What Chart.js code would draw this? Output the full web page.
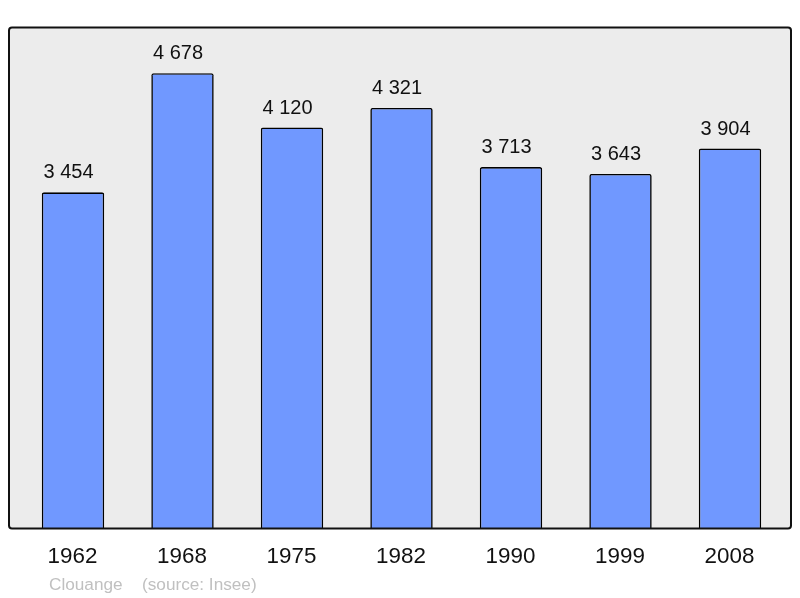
<!DOCTYPE html>
<html>
<head>
<meta charset="utf-8">
<script src="https://cdn.jsdelivr.net/npm/chart.js@4/dist/chart.umd.min.js"></script>
<style>
html,body{margin:0;padding:0;background:#fff;}
#wrap{width:800px;height:598px;position:relative;}
</style>
</head>
<body>
<div id="wrap"><canvas id="c" width="800" height="598"></canvas></div>
<script>
const years = ['1962','1968','1975','1982','1990','1999','2008'];
const population = [3454, 4678, 4120, 4321, 3713, 3643, 3904];
const valueLabels = ['3 454','4 678','4 120','4 321','3 713','3 643','3 904'];
const footerName = 'Clouange';
const footerSource = '(source: Insee)';

const FONT = '"Liberation Sans", Arial, sans-serif';

const framePlugin = {
  id: 'frame',
  beforeDatasetsDraw(chart) {
    const ctx = chart.ctx;
    ctx.save();
    ctx.beginPath();
    ctx.roundRect(9, 27.5, 782, 501, 3);
    ctx.fillStyle = '#ececec';
    ctx.fill();
    ctx.restore();
  },
  afterDatasetsDraw(chart) {
    const ctx = chart.ctx;
    const xs = chart.scales.x;
    const meta = chart.getDatasetMeta(0);
    ctx.save();
    ctx.beginPath();
    ctx.roundRect(9, 27.5, 782, 501, 3);
    ctx.lineWidth = 2;
    ctx.strokeStyle = '#111';
    ctx.stroke();
    ctx.fillStyle = '#111';
    ctx.textAlign = 'center';
    ctx.textBaseline = 'alphabetic';
    ctx.font = '20px ' + FONT;
    meta.data.forEach((bar, i) => {
      ctx.fillText(valueLabels[i], bar.x - 4.5, bar.y - 14);
    });
    ctx.font = '22.4px ' + FONT;
    ctx.textBaseline = 'middle';
    years.forEach((y, i) => {
      ctx.fillText(y, xs.getPixelForValue(i) - 0.5, 557);
    });
    ctx.textAlign = 'left';
    ctx.fillStyle = '#c0c0c0';
    ctx.font = '17.2px ' + FONT;
    ctx.fillText(footerName, 49, 585);
    ctx.fillText(footerSource, 142, 585);
    ctx.restore();
  }
};

new Chart(document.getElementById('c'), {
  type: 'bar',
  data: {
    labels: years,
    datasets: [{
      data: population,
      backgroundColor: '#7098ff',
      borderColor: '#000',
      borderWidth: 1.6,
      borderRadius: 2,
      borderSkipped: 'bottom',
      barPercentage: 0.57,
      categoryPercentage: 1.0
    }]
  },
  options: {
    responsive: false,
    animation: false,
    devicePixelRatio: 1,
    layout: { padding: { left: 18.25, right: 15.25, top: 27.3, bottom: 69.7 } },
    plugins: { legend: { display: false }, tooltip: { enabled: false } },
    scales: {
      x: { display: false, offset: true },
      y: { display: false, min: 0, max: 5150 }
    }
  },
  plugins: [framePlugin]
});
</script>
</body>
</html>
